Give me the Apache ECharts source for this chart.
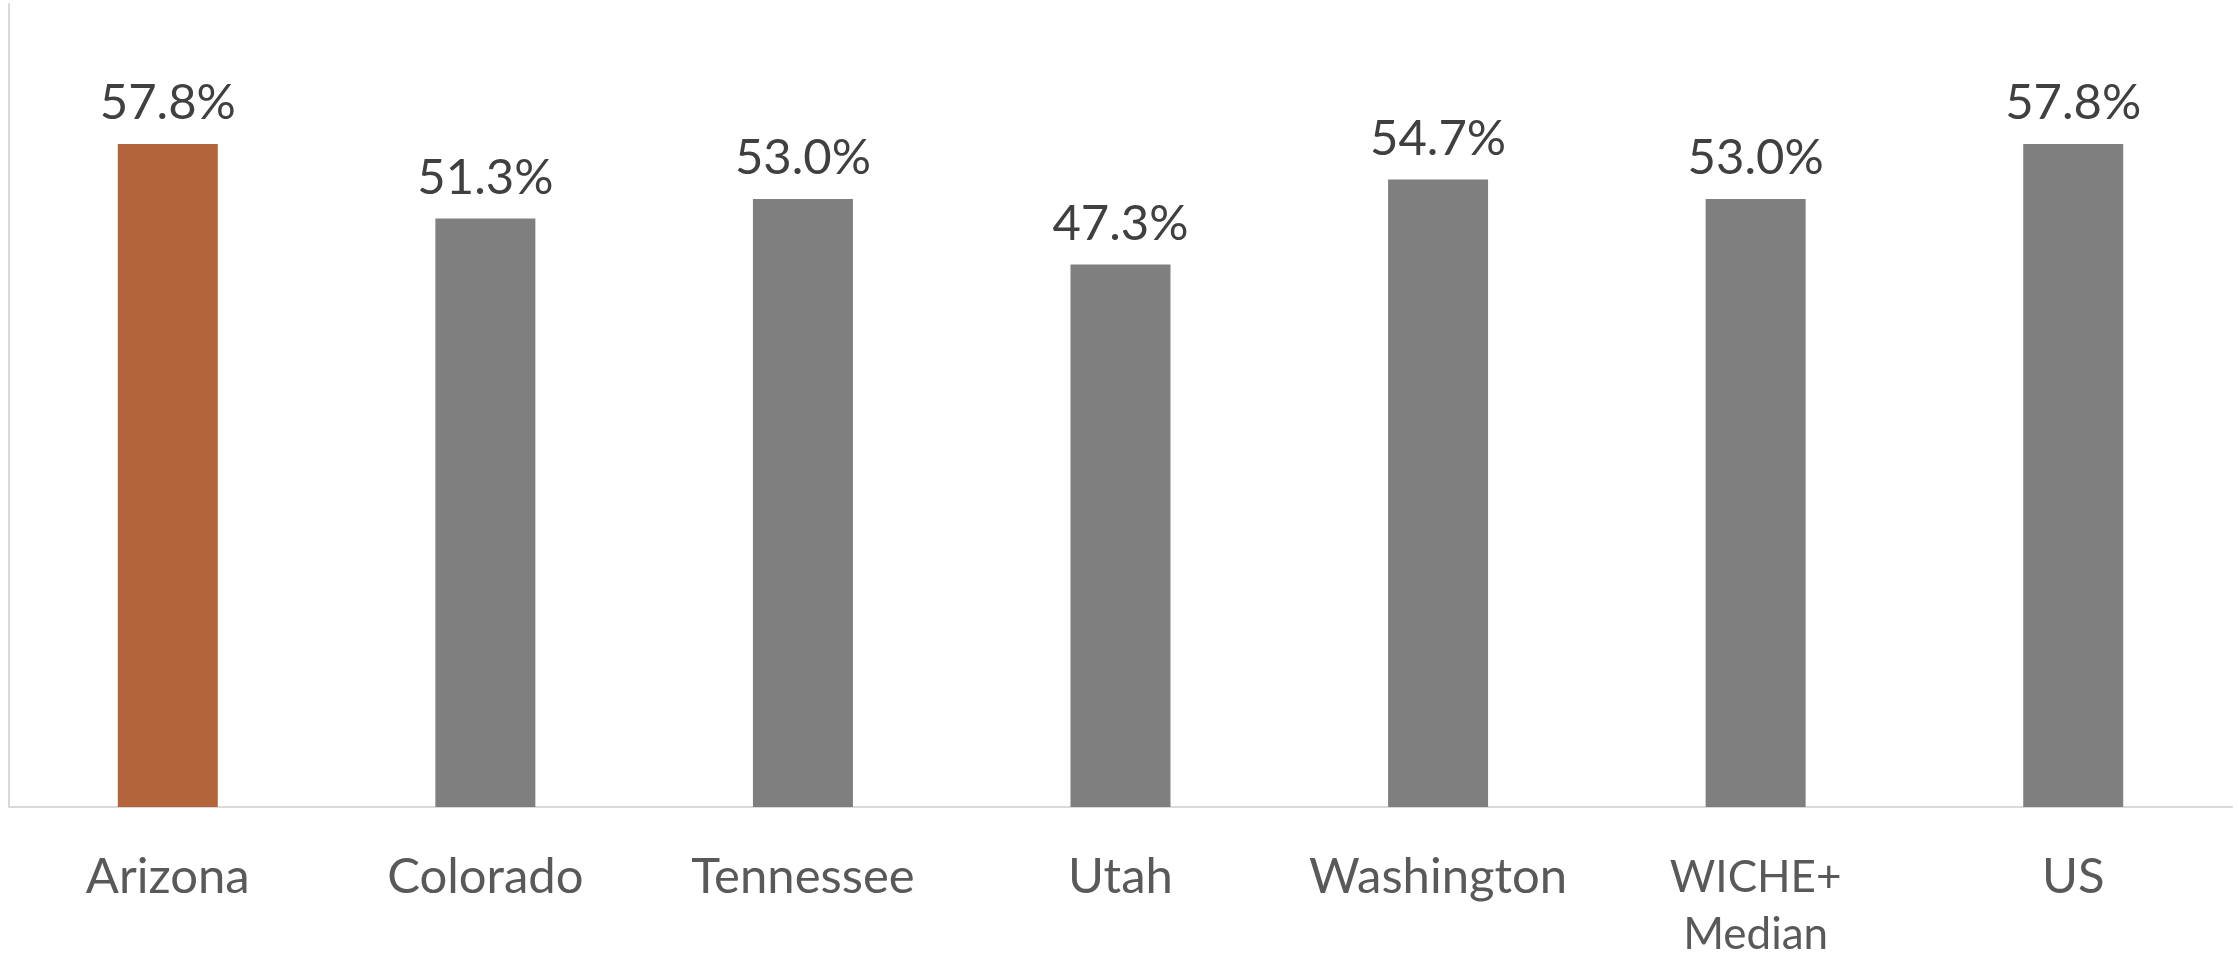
<!DOCTYPE html>
<html>
<head>
<meta charset="utf-8">
<script src="https://cdn.jsdelivr.net/npm/echarts@6/dist/echarts.min.js"></script>
<style>
html, body { margin: 0; padding: 0; background: #fff; }
#chart { width: 2238px; height: 953px; }
</style>
</head>
<body>
<div id="chart"></div>
<script>
var categories = ['Arizona', 'Colorado', 'Tennessee', 'Utah', 'Washington', 'WICHE+\nMedian', 'US'];
var values = [57.8, 51.3, 53.0, 47.3, 54.7, 53.0, 57.8];
var highlight = 'Arizona';

var chart = echarts.init(document.getElementById('chart'));

chart.setOption({
    animation: false,
    grid: { left: 9, right: 6, top: 4, bottom: 146, containLabel: false, outerBoundsMode: 'none' },
    xAxis: {
        type: 'category',
        data: categories,
        axisLine: { lineStyle: { color: '#D9D9D9', width: 2 } },
        axisTick: { show: false },
        axisLabel: {
            interval: 0,
            margin: 42,
            color: '#595959',
            fontFamily: 'Lato',
            fontSize: 49,
            lineHeight: 57,
            formatter: function(v){
                return v.indexOf('\n') >= 0 ? '{s|' + v.replace('\n', '}\n{s|') + '}' : v;
            },
            rich: {
                s: { fontFamily: 'Lato', fontSize: 44, lineHeight: 57, color: '#595959' }
            }
        }
    },
    yAxis: {
        type: 'value',
        min: 0,
        max: 70,
        interval: 10,
        axisLine: { show: true, lineStyle: { color: '#D9D9D9', width: 2 } },
        axisTick: { show: false },
        axisLabel: { show: false },
        splitLine: { show: false }
    },
    series: [{
        type: 'bar',
        data: values,
        barWidth: 100,
        itemStyle: {
            color: function(p){
                return categories[p.dataIndex] === highlight ? '#B3643A' : '#7F7F7F';
            }
        },
        label: {
            show: true,
            position: 'top',
            distance: 16,
            color: '#404040',
            fontFamily: 'Lato',
            fontSize: 49,
            formatter: function(p){
                return p.value.toFixed(1) + '%';
            }
        }
    }]
});
</script>
</body>
</html>
